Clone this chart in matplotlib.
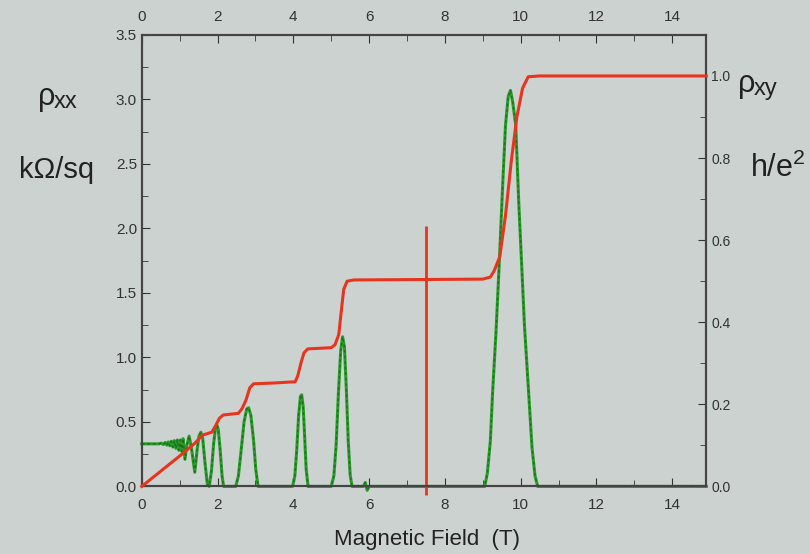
import matplotlib.pyplot as plt
from matplotlib.ticker import MultipleLocator

plt.rcParams['font.family'] = ['Liberation Sans', 'DejaVu Sans']
plt.rcParams['mathtext.fontset'] = 'custom'
plt.rcParams['mathtext.rm'] = 'Liberation Sans'
plt.rcParams['mathtext.it'] = 'Liberation Sans'

# rho_xx (kOhm/sq) vs field (T)
field_xx = [0, 0.45, 0.52, 0.57, 0.62, 0.66, 0.70, 0.74, 0.78, 0.82, 0.86, 0.90, 0.94, 0.98,
            1.02, 1.06, 1.09, 1.14, 1.19, 1.25, 1.31, 1.40, 1.46, 1.51, 1.56, 1.61, 1.67, 1.73,
            1.78, 1.84, 1.90, 1.95, 1.98, 2.02, 2.07, 2.12, 2.16, 2.48, 2.55, 2.62, 2.70, 2.77,
            2.82, 2.88, 2.95, 3.01, 3.07, 3.98, 4.04, 4.09, 4.14, 4.19, 4.22, 4.26, 4.30, 4.34,
            4.39, 5.00, 5.07, 5.13, 5.19, 5.25, 5.30, 5.35, 5.40, 5.45, 5.50, 5.55, 5.85, 5.90,
            5.95, 6.00, 9.05, 9.12, 9.20, 9.26, 9.35, 9.44, 9.52, 9.60, 9.67, 9.73, 9.79, 9.87,
            9.95, 10.02, 10.10, 10.21, 10.30, 10.38, 10.45, 14.9]
rho_xx = [0.33, 0.33, 0.335, 0.325, 0.34, 0.32, 0.345, 0.315, 0.35, 0.305, 0.355, 0.295, 0.36, 0.28,
          0.36, 0.27, 0.37, 0.21, 0.32, 0.39, 0.30, 0.11, 0.28, 0.39, 0.42, 0.37, 0.18, 0.02,
          0.0, 0.12, 0.34, 0.46, 0.48, 0.44, 0.28, 0.08, 0.0, 0.0, 0.08, 0.27, 0.50, 0.60,
          0.61, 0.55, 0.36, 0.13, 0.0, 0.0, 0.08, 0.28, 0.55, 0.70, 0.71, 0.62, 0.38, 0.13,
          0.0, 0.0, 0.08, 0.32, 0.72, 1.05, 1.16, 1.08, 0.75, 0.35, 0.09, 0.0, 0.0, 0.03,
          -0.03, 0.0, 0.0, 0.10, 0.35, 0.73, 1.20, 1.76, 2.30, 2.80, 3.02, 3.07, 2.98, 2.80,
          2.20, 1.76, 1.25, 0.73, 0.30, 0.08, 0.0, 0.0]

# rho_xy (h/e^2) vs field (T)
field_xy = [0, 0.5, 1.0, 1.4, 1.6, 1.85, 1.95, 2.05, 2.15, 2.55, 2.65, 2.75, 2.85, 2.95, 3.5,
            4.05, 4.12, 4.20, 4.28, 4.38, 5.00, 5.10, 5.20, 5.27, 5.33, 5.42, 5.60, 9.00, 9.20,
            9.30, 9.45, 9.60, 9.75, 9.90, 10.05, 10.20, 10.50, 14.9]
rho_xy = [0, 0.037, 0.074, 0.105, 0.125, 0.132, 0.148, 0.166, 0.174, 0.178, 0.19, 0.21, 0.24,
          0.25, 0.252, 0.255, 0.27, 0.30, 0.325, 0.335, 0.338, 0.345, 0.37, 0.43, 0.48, 0.50,
          0.503, 0.505, 0.51, 0.525, 0.56, 0.66, 0.79, 0.90, 0.97, 0.998, 1.0, 1.0]

marker_field = 7.5
bg = '#ccd2cf'
red = '#e8341f'
green = '#2a9a2a'
ink = '#222222'

fig = plt.figure(figsize=(8.1, 5.54), dpi=100, facecolor=bg)
ax = fig.add_axes([0.175, 0.122, 0.697, 0.815])
ax.set_facecolor(bg)

ax.plot(field_xx, rho_xx, color=green, lw=2.2, clip_on=False, zorder=3)
ax.plot(field_xx, rho_xx, color='#1c701c', lw=1.0, ls=(0, (2, 2)), clip_on=False, zorder=3)
ax.set_xlim(0, 14.9)
ax.set_ylim(0, 3.5)
ax.vlines(marker_field, -0.07, 2.02, color=red, lw=2, clip_on=False, zorder=4)

ax2 = ax.twinx()
ax2.plot(field_xy, rho_xy, color=red, lw=2.2, clip_on=False, zorder=5)
ax2.set_ylim(0, 1.1)

ax.xaxis.set_major_locator(MultipleLocator(2))
ax.xaxis.set_minor_locator(MultipleLocator(1))
ax.yaxis.set_major_locator(MultipleLocator(0.5))
ax.yaxis.set_minor_locator(MultipleLocator(0.25))
ax.yaxis.set_major_formatter('{x:.1f}')
ax2.yaxis.set_minor_locator(MultipleLocator(0.1))
ax2.set_yticks([0, 0.2, 0.4, 0.6, 0.8, 1.0])
ax2.yaxis.set_major_formatter('{x:.1f}')

ax.tick_params(axis='x', which='both', direction='in', top=True, labeltop=True,
               labelsize=11, colors='#333333', pad=8)
ax.tick_params(axis='y', which='both', direction='in', labelsize=11, colors='#333333')
ax2.tick_params(axis='y', which='both', direction='in', labelsize=10, colors='#333333')
for a in (ax, ax2):
    a.tick_params(which='major', length=6)
    a.tick_params(which='minor', length=4)
    for s in a.spines.values():
        s.set_color('#444444')
        s.set_linewidth(1.5)

# axis captions
fig.text(38 / 810, 1 - 97 / 554, 'ρ', fontsize=22, ha='left', va='center', color=ink)
fig.text(54 / 810, 1 - 102 / 554, 'xx', fontsize=17, ha='left', va='center', color=ink)
fig.text(57 / 810, 1 - 170 / 554, 'kΩ/sq', fontsize=21, ha='center', va='center', color=ink)
fig.text(738 / 810, 1 - 84 / 554, 'ρ', fontsize=22, ha='left', va='center', color=ink)
fig.text(754 / 810, 1 - 89 / 554, 'xy', fontsize=17, ha='left', va='center', color=ink)
fig.text(778 / 810, 1 - 168 / 554, r'h/e$^2$', fontsize=22, ha='center', va='center', color=ink)
fig.text(427 / 810, 1 - 540 / 554, 'Magnetic Field  (T)', fontsize=16, ha='center', va='center', color=ink)

fig.savefig('out.png', dpi=100, facecolor=bg)
